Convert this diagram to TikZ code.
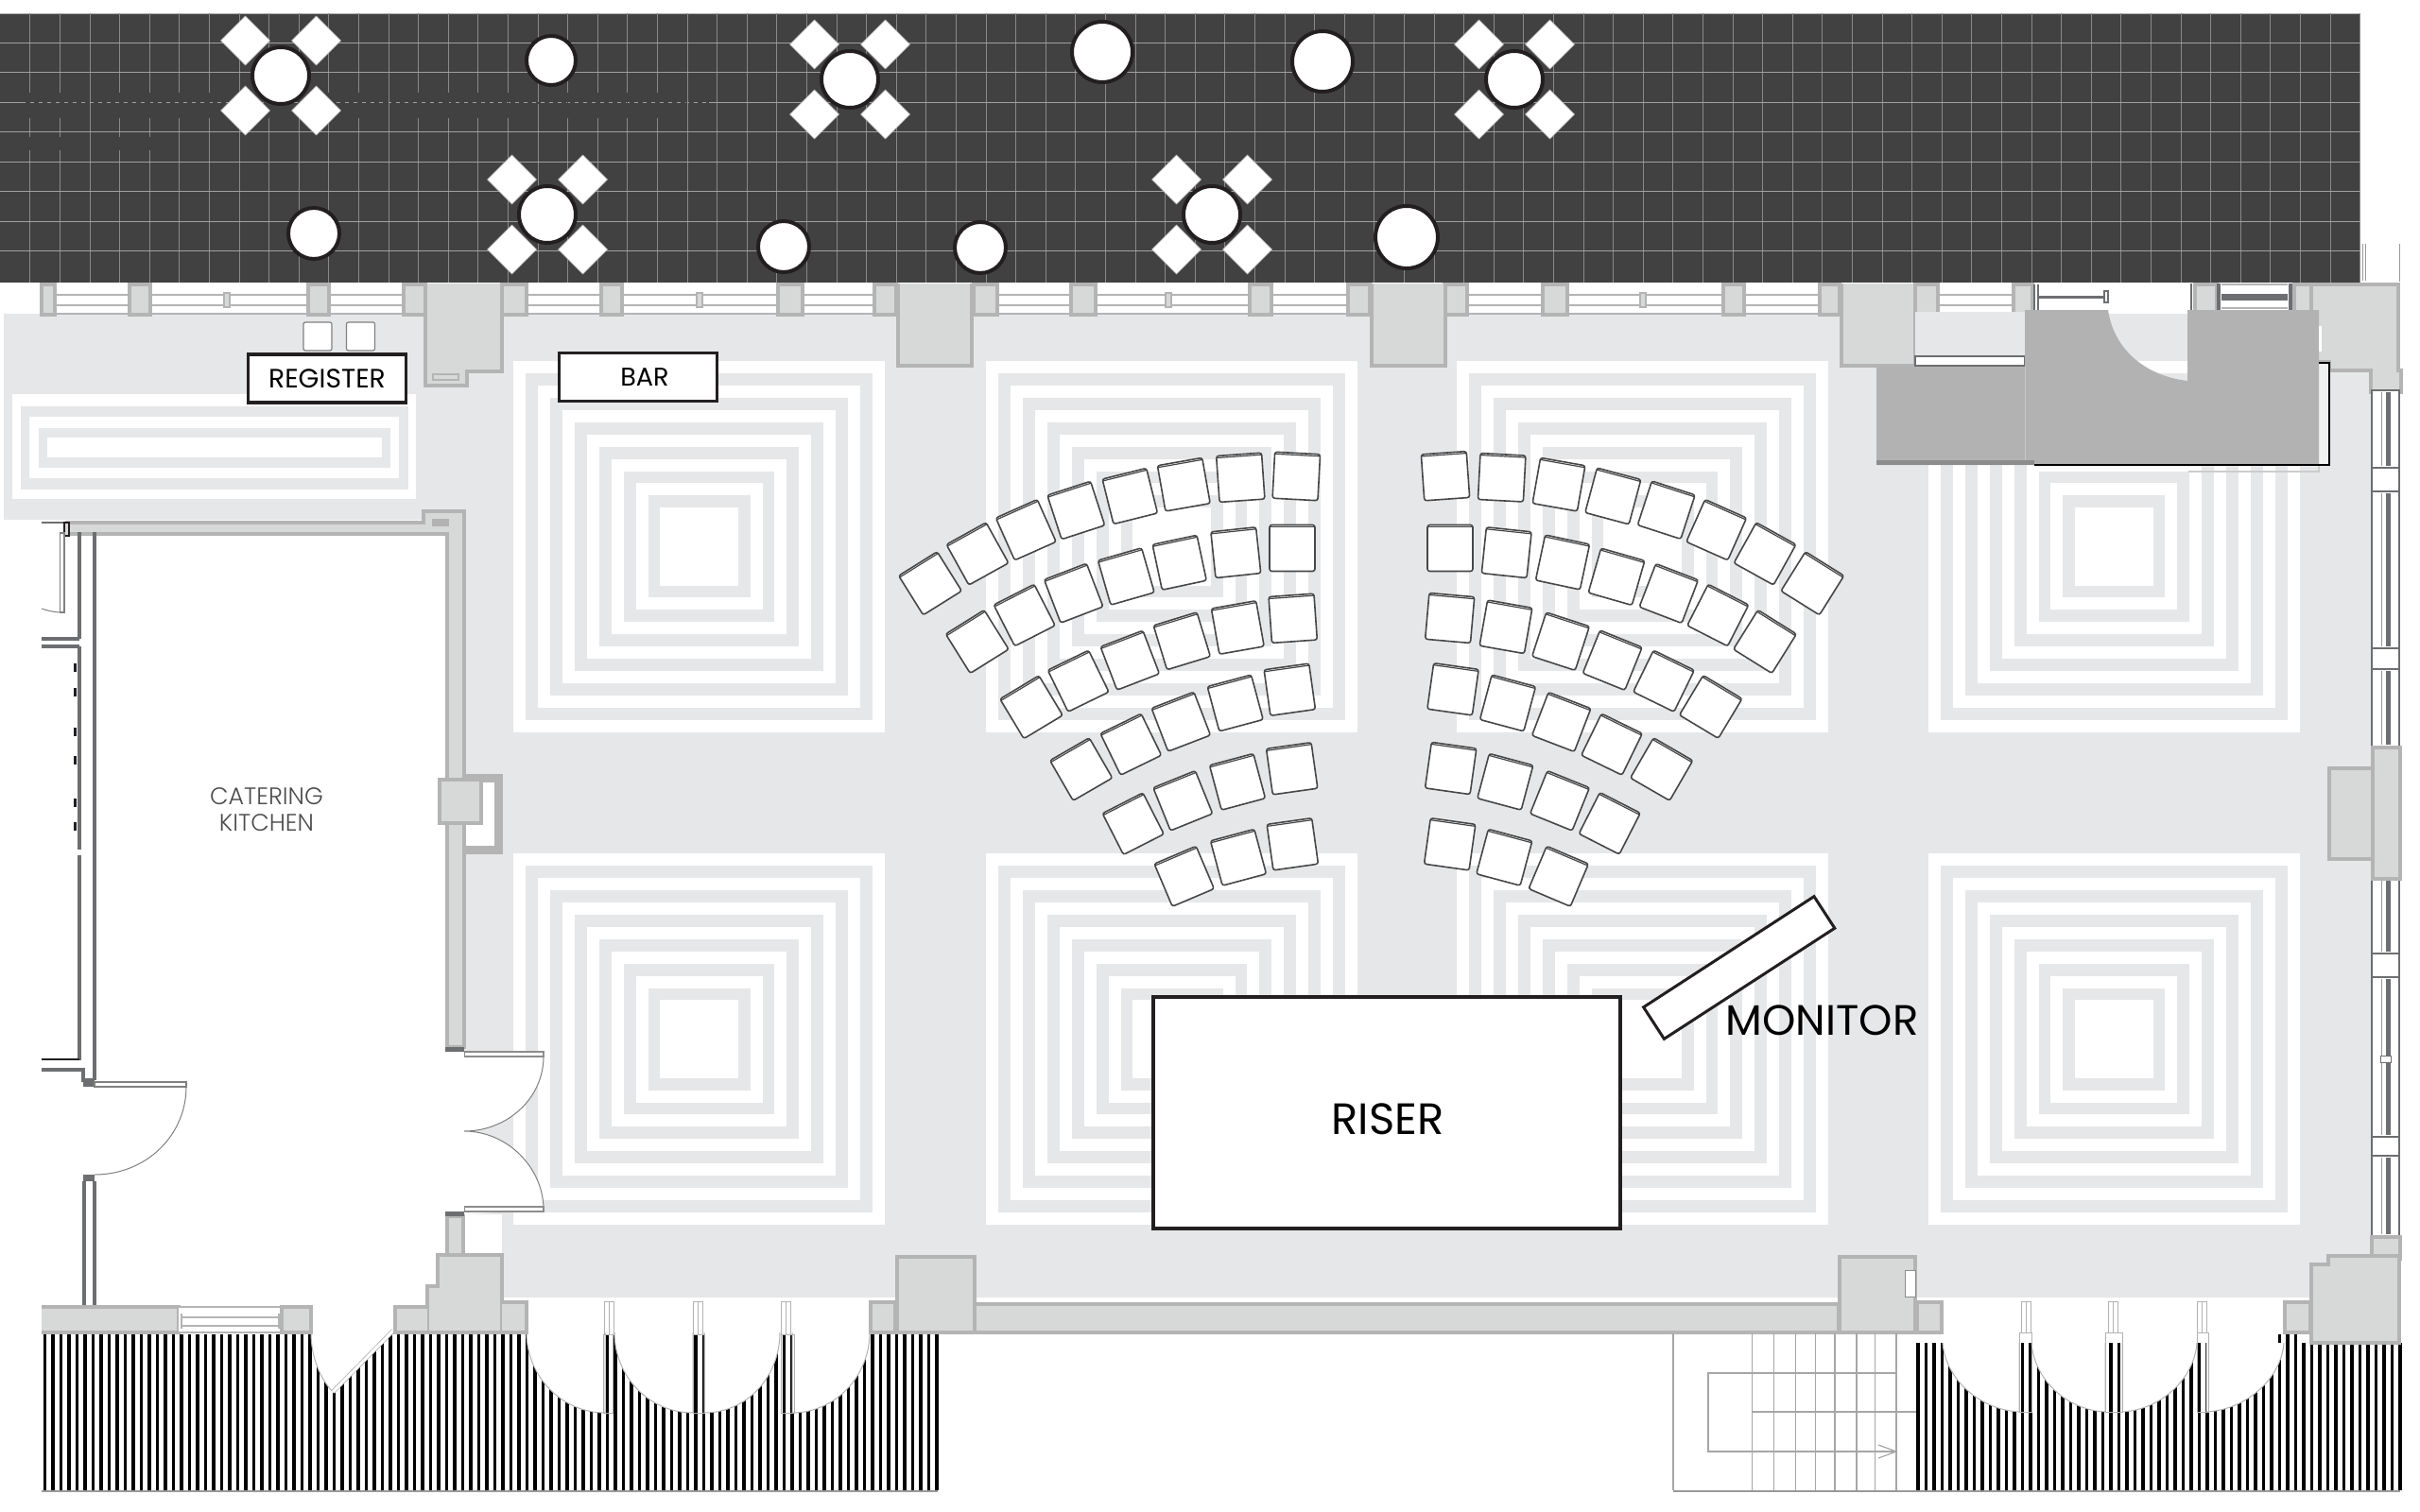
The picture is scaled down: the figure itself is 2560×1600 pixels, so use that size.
\documentclass[tikz,border=0pt]{standalone}
\usepackage{fontspec}
\setmainfont{Poppins}
\newfontfamily\thinfont{Poppins Light}
\usetikzlibrary{calc,positioning}
\definecolor{deck}{HTML}{414141}
\definecolor{floorgray}{HTML}{E6E7E8}
\definecolor{wallfill}{HTML}{D7D8D8}
\definecolor{wallline}{HTML}{B4B4B4}
\definecolor{partline}{HTML}{6D6E71}
\definecolor{inkblack}{HTML}{231F20}
\definecolor{standgray}{HTML}{B2B2B2}
\tikzset{
  gridv/.style={draw=white!38!deck, line width=.005cm},
  gridh/.style={draw=white!50!deck, line width=.008cm},
  seatdiamond/.style={fill=white, draw=white!60!deck, line width=.006cm},
  tabletop/.style={fill=white, draw=inkblack, line width=.04cm},
  wall/.style={fill=wallfill, draw=wallline, line width=.045cm},
  rail/.style={draw=wallline, line width=.027cm},
  thinline/.style={draw=black!50, line width=.01cm},
  partition/.style={draw=partline, line width=.04cm},
  stairline/.style={draw=black!35, line width=.012cm},
  swing/.style={fill=white, draw=black!30, line width=.01cm},
  seatline/.style={fill=white, draw=black!72, line width=.016cm},
  labelbox/.style={draw=inkblack, fill=white, line width=.035cm, inner sep=0pt, outer sep=0pt},
}
% table with four chairs
\newcommand{\tablefour}[2]{
  \foreach \dx in {-37.5,37.5} \foreach \dy in {-37,37}
    \draw[seatdiamond] (#1+\dx-26,#2+\dy) -- (#1+\dx,#2+\dy-26) -- (#1+\dx+26,#2+\dy) -- (#1+\dx,#2+\dy+26) -- cycle;
  \draw[tabletop] (#1,#2) circle[radius=30];
}
\newcommand{\seat}[3]{
  \begin{scope}[shift={(#1,#2)},rotate=#3]
    \draw[seatline,rounded corners=.025cm] (-24,-24.5) rectangle (24,24.5);
    \draw[draw=black!72,line width=.012cm] (-23.5,-22.5) -- (23.5,-22.5);
  \end{scope}
}
\begin{document}
\begin{tikzpicture}[x=.01cm,y=-.01cm]
\useasboundingbox (0,0) rectangle (2560,1600);

% deck
\fill[deck] (0,14) rectangle (2497,299);
\draw[draw=black!30,line width=.008cm] (0,14) -- (2497,14);
\foreach \i in {1,...,79} \draw[gridv] (31.6*\i,14) -- (31.6*\i,299);
\foreach \j in {0,...,7} \draw[gridh] (0,45+31.5*\j) -- (2497,45+31.5*\j);
\draw[draw=deck,line width=.012cm,dash pattern=on .05cm off .04cm] (27,109) -- (750,109);
\foreach \i in {1,...,23} \draw[draw=deck,line width=.012cm] (31.6*\i,98) -- (31.6*\i,125);
\foreach \i in {1,...,5} \draw[draw=deck,line width=.012cm] (31.6*\i,145) -- (31.6*\i,159);
\tablefour{297}{80}
\tablefour{899}{84}
\tablefour{1602}{84}
\tablefour{579}{227}
\tablefour{1282}{227}
\foreach \cx/\cy/\rad in {583/64/26,332/247/27,1166/55/32,1399/65/32,1488/251/33,829/261/27,1037/262/27}
  \draw[tabletop] (\cx,\cy) circle[radius=\rad];
\draw[draw=black!40,line width=.006cm] (2499,258) -- (2499,297) (2502,258) -- (2502,297) (2538,258) -- (2538,298);

% floor
\fill[floorgray] (4,332) -- (2510,332) -- (2510,1373) -- (531,1373) -- (531,1285) -- (491,1285) -- (491,550) -- (4,550) -- cycle;
\foreach \cx/\cy in {739.5/578,1239.5/578,1737.5/578,2236/578,739.5/1099.5,1239.5/1099.5,1737.5/1099.5,2236/1099.5}
  \foreach \s/\c in {196.5/white,183.5/floorgray,170.5/white,157.5/floorgray,144.5/white,131.5/floorgray,118.5/white,105.5/floorgray,92.5/white,79.5/floorgray,67/white,54/floorgray,41.5/white}
    \fill[\c] (\cx-\s,\cy-\s) rectangle (\cx+\s,\cy+\s);
\fill[white] (12.5,417) rectangle (440,527.5);
\fill[floorgray] (22,429.5) rectangle (432,517.5);
\fill[white] (31,441) rectangle (422,506);
\fill[floorgray] (41,452.5) rectangle (412.5,495);
\fill[white] (50,463) rectangle (403.5,484);

% windows along the top
\foreach \a/\b in {58/137,159/326,348/427,557/636,658/823,849/925,1055/1133,1159/1322,1345/1426,1552/1632,1658/1823,1845/1925,2050/2130} {
  \fill[white] (\a,301) rectangle (\b,332);
  \draw[rail] (\a,312) -- (\b,312) (\a,323) -- (\b,323) (\a,332) -- (\b,332);
}
\foreach \m in {240,740,1236,1738} \draw[rail,fill=wallfill,line width=.015cm] (\m-3,310) rectangle (\m+3,325);
\foreach \a/\b in {44/58,137/159,326/348,427/450,531/557,636/658,823/849,925/948,1030/1055,1133/1159,1322/1345,1426/1449,1528/1552,1632/1658,1823/1845,1925/1946,2026/2050,2130/2150,2322/2345,2427/2445}
  \draw[wall] (\a,301) rectangle (\b,333);
\draw[wall] (450,300) -- (450,408) -- (494,408) -- (494,393) -- (531,393) -- (531,300);
\draw[draw=wallline,fill=wallfill,line width=.02cm] (458,396) rectangle (485,402);
\foreach \px in {948,1449,1946} \draw[wall] (\px+2,300) -- (\px+2,387) -- (\px+80,387) -- (\px+80,300);
\draw[wall] (2445,301) -- (2537,301) -- (2537,392) -- (2540,392) -- (2540,415) -- (2508,415) -- (2508,392) -- (2464,392) -- (2464,383) -- (2445,383) -- cycle;

% service stand, top right
\fill[floorgray] (2026,330) rectangle (2145,377);
\draw[draw=partline,fill=white,line width=.012cm] (2026,377) rectangle (2142,387);
\draw[draw=partline,line width=.025cm] (2026,388) -- (2142,388);
\fill[floorgray!60] (2453,383) rectangle (2464,492);
\draw[draw=black!20,line width=.012cm] (2315,499) -- (2453,499) -- (2453,492);
\draw[draw=partline,line width=.02cm] (2152,301) -- (2152,328) (2156,301) -- (2156,328);
\draw[draw=partline,line width=.03cm] (2156,314.5) -- (2226,314.5);
\draw[draw=partline,fill=white,line width=.012cm] (2226,308) rectangle (2230,320);
\draw[draw=partline,line width=.025cm] (2318,300) -- (2318,328);
\draw[draw=partline,line width=.045cm] (2347,300) -- (2347,328) (2423,300) -- (2423,328);
\draw[draw=partline,line width=.07cm] (2350,314.5) -- (2420,314.5);
\draw[rail] (2350,301) -- (2420,301) (2350,326) -- (2420,326);
\fill[standgray] (2142,328) -- (2230,328) .. controls (2236,370) and (2270,398) .. (2314,403) -- (2314,328) -- (2453,328) -- (2453,492) -- (1985,492) -- (1985,388) -- (2142,388) -- cycle;
\draw[draw=black!22,line width=.006cm] (2142,388) -- (2142,487);
\fill[black!45] (1985,487) rectangle (2152,492);
\fill[white] (2453,345) rectangle (2456,372);
\draw[draw=black,line width=.025cm] (2453,384) -- (2464,384) -- (2464,492) -- (2152,492);

% east windows
\draw[draw=partline,line width=.012cm] (2509,413) -- (2509,790) (2538,413) -- (2538,790) (2509,930) -- (2509,1308) (2538,930) -- (2538,1308);
\foreach \a/\b in {413/495,520/686,708/790,930/1009,1034/1203,1223/1308} {
  \draw[draw=partline,fill=white,line width=.014cm] (2509,\a) rectangle (2538,\b);
  \draw[draw=black!40,line width=.01cm] (2519,\a+2) -- (2519,\b-2);
  \fill[partline] (2524,\a+2) rectangle (2529,\b-2);
}
\draw[draw=partline,fill=white,line width=.01cm] (2518,1117) rectangle (2529,1124);
\draw[wall] (2464,813) rectangle (2510,909);
\draw[wall] (2510,791) rectangle (2539,930);
\draw[wall] (2509,1309) rectangle (2539,1332);

% kitchen
\draw[wall] (71,553) -- (448,553) -- (448,541) -- (491,541) -- (491,1108) -- (473,1108) -- (473,565) -- (71,565) -- cycle;
\fill[standgray] (457,549) rectangle (475,557);
\draw[draw=wallline,line width=.09cm] (493,823.5) -- (527.5,823.5) -- (527.5,899) -- (493,899);
\fill[white] (493,828) rectangle (523,894.5);
\draw[wall] (465,825) rectangle (509,871);
\draw[wall] (473,1287) rectangle (490,1328);
\draw[partition] (84,563) -- (84,676) (84,684) -- (84,899) (84,905) -- (84,1122) (100,563) -- (100,1143);
\draw[partition] (44,676) -- (84,676) (44,684) -- (84,684) (44,1132) -- (88,1132) -- (88,1145);
\draw[draw=inkblack,line width=.02cm] (44,1121) -- (84,1121);
\draw[draw=partline,line width=.02cm] (44,553) -- (70,553);
\draw[draw=inkblack,fill=wallfill,line width=.012cm] (68,553) rectangle (73,567);
\draw[draw=black!50,fill=white,line width=.012cm] (63.5,564) rectangle (68,648);
\draw[thinline] (44,644) .. controls (50,646) and (57,648) .. (64,648);
\foreach \t in {702,728,770,800,845,870} \fill[inkblack] (78,\t) rectangle (81,\t+9);
\fill[partline] (88,1141) rectangle (100,1150);
\draw[draw=black!50,fill=white,line width=.012cm] (100,1145) rectangle (197,1150);
\draw[thinline] (197,1150) .. controls (197,1201) and (155,1243) .. (100,1243);
\fill[partline] (88,1243) rectangle (100,1250);
\draw[partition] (89,1250) -- (89,1382) (100,1250) -- (100,1382);

% double door into the room
\fill[white] (491,1113) -- (575,1118) .. controls (575,1162) and (537,1197) .. (491,1197) .. controls (537,1197) and (575,1236) .. (575,1280) -- (491,1285) -- cycle;
\draw[thinline] (575,1118) .. controls (575,1162) and (537,1197) .. (491,1197) .. controls (537,1197) and (575,1236) .. (575,1280);
\draw[draw=black!45,fill=white,line width=.014cm] (491.5,1113) rectangle (575,1118);
\draw[draw=black!45,fill=white,line width=.014cm] (491.5,1277) rectangle (575,1282);
\fill[partline] (471,1108) rectangle (491,1113);
\fill[partline] (471,1282) rectangle (491,1287);

% balcony slats
\foreach \k in {0,...,111} \draw[draw=black,line width=.035cm] (47.3+8.5*\k,1412) -- (47.3+8.5*\k,1577);
\foreach \k in {0,...,60} \draw[draw=black,line width=.035cm] (2029+8.5*\k,1421) -- (2029+8.5*\k,1577);
\foreach \k in {45,...,47} \draw[draw=black,line width=.035cm] (2029+8.5*\k,1412) -- (2029+8.5*\k,1421);
\draw[draw=black!40,line width=.018cm] (44,1578) -- (992,1578) (1770,1578) -- (2539,1578);

% doors onto the balcony
\draw[swing] (329,1410) .. controls (329,1435) and (338,1458) .. (352,1473) -- (416,1408);
\draw[draw=black!30,double=white,double distance=.03cm,line width=.008cm] (352,1473) -- (416,1408);
\draw[swing] (557,1410) .. controls (557,1456) and (594,1495) .. (640,1495) -- (640,1410);
\draw[swing] (650,1410) .. controls (650,1456) and (686,1495) .. (733,1495) -- (733,1410);
\draw[swing] (825,1410) .. controls (825,1456) and (791,1495) .. (745,1495) -- (745,1410);
\draw[swing] (920,1410) .. controls (920,1456) and (884,1495) .. (838,1495) -- (838,1410);
\foreach \a/\b in {638/648,733/745,826/840} \draw[draw=black!30,line width=.01cm] (\a,1412) rectangle (\b,1495);
\foreach \m in {644,738.5,831} \draw[draw=black!30,line width=.01cm] (\m-5,1377) rectangle (\m+5,1412) (\m,1377) -- (\m,1412);
\draw[swing] (2055,1421) .. controls (2058,1460) and (2095,1492) .. (2136,1494) -- (2136,1421);
\draw[swing] (2149,1421) .. controls (2152,1460) and (2186,1492) .. (2227,1494) -- (2227,1421);
\draw[swing] (2324,1421) .. controls (2321,1460) and (2285,1492) .. (2245,1494) -- (2245,1421);
\draw[swing] (2416,1421) .. controls (2413,1460) and (2375,1492) .. (2334,1494) -- (2334,1421);
\foreach \a/\b in {2136/2149,2227/2245,2324/2336} \draw[draw=black!30,line width=.01cm] (\a,1410) rectangle (\b,1494);
\foreach \m in {2143,2235.5,2329} \draw[draw=black!30,line width=.01cm] (\m-5,1377) rectangle (\m+5,1410) (\m,1377) -- (\m,1410);

% walls along the bottom
\draw[wall] (44,1383) -- (189,1383) -- (189,1410) -- (44,1410);
\fill[white] (189,1384) rectangle (298,1410);
\draw[rail] (189,1383) -- (298,1383) (192,1394) -- (295,1394) (192,1403) -- (295,1403) (189,1410) -- (298,1410);
\draw[rail] (192,1390) -- (192,1406) (295,1390) -- (295,1406);
\draw[wall] (298,1383) rectangle (329,1410);
\draw[wall] (463,1328) -- (531,1328) -- (531,1378) -- (557,1378) -- (557,1410) -- (418,1410) -- (418,1383) -- (452,1383) -- (452,1361) -- (463,1361) -- cycle;
\draw[draw=wallline,line width=.012cm] (453,1383) -- (453,1410) (530,1378) -- (530,1410);
\draw[wall] (921,1378) rectangle (947,1410);
\draw[wall] (1031,1380) rectangle (1945,1410);
\draw[wall] (949,1330) rectangle (1031,1410);
\draw[wall] (1946,1330) rectangle (2026,1410);
\draw[draw=black!45,fill=white,line width=.01cm] (2015,1344) rectangle (2026,1372);
\draw[wall] (2028,1378) rectangle (2054,1410);
\draw[wall] (2417,1378) rectangle (2444,1410);
\draw[wall] (2445,1338) -- (2463,1338) -- (2463,1329) -- (2509,1329) -- (2538,1329) -- (2538,1421) -- (2445,1421) -- cycle;

% stairs
\draw[stairline] (1770,1411) -- (1770,1577);
\foreach \x in {1853.5,1876.5,1899.5,1920.5,1941,1964,1983.5,2006} \draw[stairline] (\x,1411) -- (\x,1577);
\draw[stairline] (2006,1453) -- (1807,1453) -- (1807,1536) -- (2006,1536);
\draw[stairline] (1853.5,1494) -- (2027,1494);
\draw[stairline] (1987,1529) -- (2006,1536) -- (1987,1543);

% register and bar
\draw[draw=black!50,fill=white,rounded corners=.02cm,line width=.012cm] (321,341) rectangle (351,371);
\draw[draw=black!50,fill=white,rounded corners=.02cm,line width=.012cm] (366.5,341) rectangle (396.5,371);
\node (register) [labelbox,minimum width=1.67cm,minimum height=.51cm,font=\fontsize{8}{9}\selectfont] at (346,400.5) {REGISTER};
\node (bar) [labelbox,minimum width=1.67cm,minimum height=.51cm,font=\fontsize{7.7}{9}\selectfont] at (675,399) {\hspace{.14cm}BAR};
\node (kitchen) [align=center,text=black!70,font=\thinfont\fontsize{7.2}{8}\selectfont] at (282,857) {CATERING\\KITCHEN};

% left block of chairs
\foreach \cx/\cy/\rot in {984/617.3/32,1034/586/29,1085.3/560.7/24,1138.3/540/18,1195.3/525/14,1252.3/512.7/10,1312.3/505.3/4,1371.3/504/-3,
  1033.7/679/32,1083.7/651/27,1135.7/627.7/21,1191.3/610/16,1247.7/595.3/12,1307.3/584.7/6,1367/580/0,
  1091/748.3/31,1140.7/720.7/26,1195.3/698.7/21,1250.3/678.3/17,1309.3/664/10,1367.7/654.3/4,
  1143.7/814/30,1196.3/787.7/26,1249.3/763.7/21,1306.7/744/15,1364.3/729.7/8,
  1198.7/871.7/27,1251.3/847.3/22,1309/827.3/15,1366.7/813.3/8,
  1252.7/927.3/23,1310/907.3/15,1367.3/893.3/8}
  {\seat{\cx}{\cy}{\rot}}
% right block of chairs
\foreach \cx/\cy/\rot in {1529/503.7/4,1588.7/505.3/-3,1649/512.7/-10,1706.3/525/-15,1762.7/539.7/-18,1815.7/560.7/-24,1867/586/-29,1917.3/617.3/-32,
  1534/580/0,1593.7/584.7/-6,1653/595/-12,1710/610.3/-16,1765.3/628/-21,1817.3/651/-27,1867/679/-32,
  1533.7/654/-5,1593/663.3/-10,1651/678.7/-18,1705.7/698.7/-22,1760/720.7/-26,1809.7/748/-31,
  1537/729.3/-8,1595/744/-15,1651.7/764/-21,1705/787.7/-26,1757.7/814/-30,
  1534.7/813/-8,1592.3/827.3/-15,1650/847.3/-22,1702.7/871.3/-27,
  1533.7/893.3/-8,1591.3/907.3/-15,1648.7/927.3/-23}
  {\seat{\cx}{\cy}{\rot}}

% riser and monitor
\node (riser) [labelbox,minimum width=4.94cm,minimum height=2.45cm] at (1467,1177.5) {};
\node (riserlabel) [font=\fontsize{13.2}{15}\selectfont,inner sep=0pt] at (1468,1184) {RISER};
\node (monitor) [labelbox,line width=.03cm,minimum width=2.15cm,minimum height=.4cm,rotate=33] at (1839.7,1024) {};
\node (monitorlabel) [font=\fontsize{12.8}{15}\selectfont,inner sep=0pt] at (1927.5,1080) {MONITOR};
\end{tikzpicture}
\end{document}
